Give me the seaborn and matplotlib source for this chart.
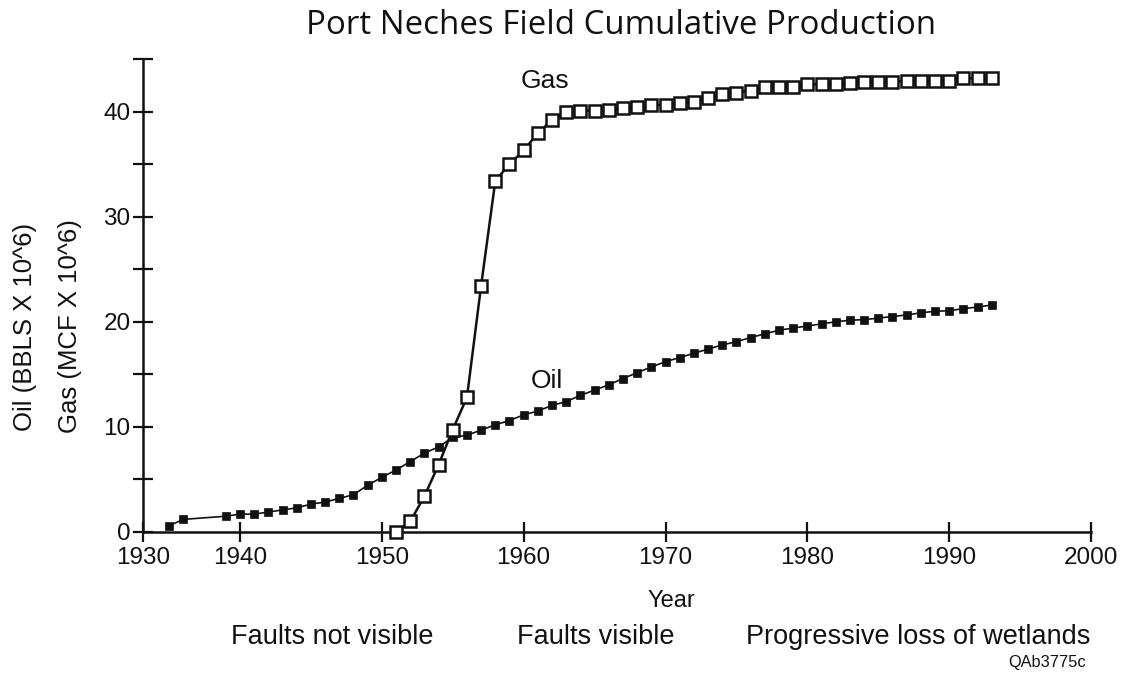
import matplotlib
matplotlib.use("Agg")
import matplotlib.pyplot as plt
import seaborn as sns
import pandas as pd
from matplotlib.ticker import MultipleLocator, FixedLocator, FixedFormatter

# ---------------- data ----------------
oil_years = [1935, 1936, 1939] + list(range(1940, 1994))
oil_values = [0.6, 1.2, 1.5,
              1.7, 1.7, 1.9, 2.1, 2.3, 2.65, 2.85, 3.2, 3.55, 4.45,
              5.2, 5.9, 6.7, 7.5, 8.1, 9.0, 9.2, 9.7, 10.2, 10.6,
              11.15, 11.5, 12.05, 12.4, 13.0, 13.5, 14.0, 14.6, 15.15, 15.7,
              16.2, 16.6, 17.0, 17.4, 17.8, 18.1, 18.5, 18.85, 19.2, 19.4,
              19.6, 19.8, 20.0, 20.15, 20.2, 20.35, 20.5, 20.65, 20.85, 21.0,
              21.05, 21.25, 21.4, 21.6]
gas_years = list(range(1951, 1994))
gas_values = [0.0, 1.0, 3.4, 6.4, 9.75, 12.8, 23.45, 33.4, 35.0,
              36.3, 37.95, 39.2, 39.95, 40.1, 40.1, 40.15, 40.3, 40.4, 40.6,
              40.65, 40.8, 40.95, 41.3, 41.7, 41.8, 42.0, 42.3, 42.35, 42.35,
              42.6, 42.6, 42.6, 42.75, 42.85, 42.85, 42.85, 42.9, 42.9, 42.9,
              42.95, 43.15, 43.15, 43.15]
x_tick_labels = ["1930", "1940", "1950", "1960", "1970", "1980", "1990", "2000"]
y_tick_labels = ["0", "10", "20", "30", "40"]
phase_labels = ["Faults not visible", "Faults visible", "Progressive loss of wetlands"]

oil_df = pd.DataFrame({"Year": oil_years, "Value": oil_values})
gas_df = pd.DataFrame({"Year": gas_years, "Value": gas_values})

# ---------------- style ----------------
sns.set_style("white")
plt.rcParams["font.family"] = ["Liberation Sans", "DejaVu Sans"]
plt.rcParams["text.color"] = "#111111"

fig = plt.figure(figsize=(11.24, 6.77), dpi=100)
ax = fig.add_axes([143 / 1124, 1 - 532 / 677, (1091 - 143) / 1124, (532 - 59) / 677])

XMIN, XMAX = 1933.16, 2000
ax.set_xlim(XMIN, XMAX)
ax.set_ylim(0, 45)

sns.lineplot(data=oil_df, x="Year", y="Value", ax=ax, color="#111111",
             linewidth=1.2, marker="s", markersize=5.8, markeredgewidth=0.5,
             markerfacecolor="#111111", markeredgecolor="#111111",
             estimator=None, sort=False, clip_on=False, zorder=3)
sns.lineplot(data=gas_df, x="Year", y="Value", ax=ax, color="#111111",
             linewidth=1.8, marker="s", markersize=8.3, markeredgewidth=1.8,
             markerfacecolor="white", markeredgecolor="#111111",
             estimator=None, sort=False, clip_on=False, zorder=4)

# axes & ticks
for s in ["top", "right"]:
    ax.spines[s].set_visible(False)
for s in ["left", "bottom"]:
    ax.spines[s].set_linewidth(1.8)
    ax.spines[s].set_color("#111111")

x_tick_pos = [XMIN] + list(range(1940, 2001, 10))
ax.xaxis.set_major_locator(FixedLocator(x_tick_pos))
ax.xaxis.set_major_formatter(FixedFormatter(x_tick_labels))
ax.yaxis.set_minor_locator(MultipleLocator(5))
ax.set_yticks(range(0, 41, 10))
ax.set_yticklabels(y_tick_labels)
ax.tick_params(axis="both", which="both", direction="inout", length=14,
               width=1.6, color="#111111", labelsize=17.5, labelcolor="#111111",
               left=True, bottom=True)
ax.tick_params(axis="y", which="minor", length=14, width=1.6)
ax.tick_params(axis="x", pad=3.5)
ax.tick_params(axis="y", pad=2)
ax.set_xlabel("")
ax.set_ylabel("")

# series labels
ax.text(1961.5, 42.9, "Gas", fontsize=19, ha="center", va="center")
ax.text(1961.65, 14.4, "Oil", fontsize=19, ha="center", va="center")

# figure texts
fig.text(621 / 1124, 1 - 25 / 677, "Port Neches Field Cumulative Production",
         fontsize=23.8, ha="center", va="center",
         family=["Open Sans", "DejaVu Sans"])
fig.text(25 / 1124, 1 - 327 / 677, "Oil (BBLS X 10^6)", rotation=90,
         fontsize=18.5, ha="center", va="center")
fig.text(70 / 1124, 1 - 326 / 677, "Gas (MCF X 10^6)", rotation=90,
         fontsize=18.5, ha="center", va="center")
fig.text(671 / 1124, 1 - 601 / 677, "Year", fontsize=17, ha="center", va="center")
for xpix, lab in zip([332, 596, 918], phase_labels):
    fig.text(xpix / 1124, 1 - 637 / 677, lab, fontsize=19.5, ha="center", va="center")
fig.text(1047 / 1124, 1 - 662 / 677, "QAb3775c", fontsize=11.8, ha="center", va="center")

fig.savefig("out.png", dpi=100, facecolor="white")
